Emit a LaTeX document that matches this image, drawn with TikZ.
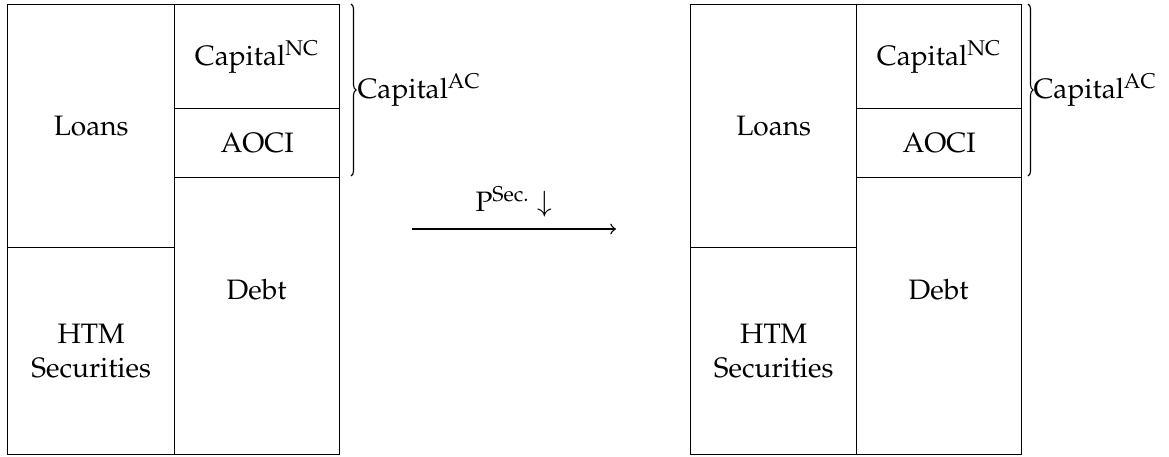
\documentclass[tikz,border=0pt]{standalone}
\usepackage[T1]{fontenc}
\usepackage{mathpazo}
\usepackage{amsmath}
\usetikzlibrary{decorations.pathreplacing}
\def\pxu{0.356pt}
\tikzset{
  cell/.style={draw, line width=0.5pt, inner sep=0pt, anchor=north west, align=center},
  lbl/.style={inner sep=0pt, align=center},
  bracestyle/.style={decorate, decoration={brace, amplitude=1.8pt}, line width=0.4pt},
}
\begin{document}
\begin{tikzpicture}[x=\pxu, y=-\pxu]
\useasboundingbox (0,0) rectangle (1169,456);
% ---------- left balance sheet ----------
\node[cell, minimum width=167*\pxu, minimum height=243*\pxu] (loansL) at (7,4) {Loans};
\node[cell, minimum width=167*\pxu, minimum height=207*\pxu] (htmL) at (7,247) {HTM\\Securities};
\node[cell, minimum width=165*\pxu, minimum height=104*\pxu] (capL) at (174,4) {Capital$^{\text{NC}}$};
\node[cell, minimum width=165*\pxu, minimum height=69*\pxu] (aociL) at (174,108) {AOCI};
\node[cell, minimum width=165*\pxu, minimum height=277*\pxu] (debtL) at (174,177) {};
\node[lbl] (debtLt) at (256.5,290) {Debt};
\coordinate (btL) at (351,4);
\coordinate (bbL) at (351,176);
\draw[bracestyle] (btL) -- (bbL);
\node[lbl, anchor=west] (acL) at (357,90) {Capital$^{\text{AC}}$};
% ---------- arrow ----------
\coordinate (as) at (412,229);
\coordinate (ae) at (616,229);
\draw[->, line width=0.5pt] (as) -- node[above, inner sep=4pt] (pl) {P$^{\text{Sec.}}$ $\downarrow$} (ae);
% ---------- right balance sheet ----------
\node[cell, minimum width=166*\pxu, minimum height=243*\pxu] (loansR) at (690,4) {Loans};
\node[cell, minimum width=166*\pxu, minimum height=207*\pxu] (htmR) at (690,247) {HTM\\Securities};
\node[cell, minimum width=165*\pxu, minimum height=104*\pxu] (capR) at (856,4) {Capital$^{\text{NC}}$};
\node[cell, minimum width=165*\pxu, minimum height=69*\pxu] (aociR) at (856,108) {AOCI};
\node[cell, minimum width=165*\pxu, minimum height=277*\pxu] (debtR) at (856,177) {};
\node[lbl] (debtRt) at (938.5,290) {Debt};
\coordinate (btR) at (1028,4);
\coordinate (bbR) at (1028,176);
\draw[bracestyle] (btR) -- (bbR);
\node[lbl, anchor=west] (acR) at (1033,90) {Capital$^{\text{AC}}$};
\end{tikzpicture}
\end{document}
